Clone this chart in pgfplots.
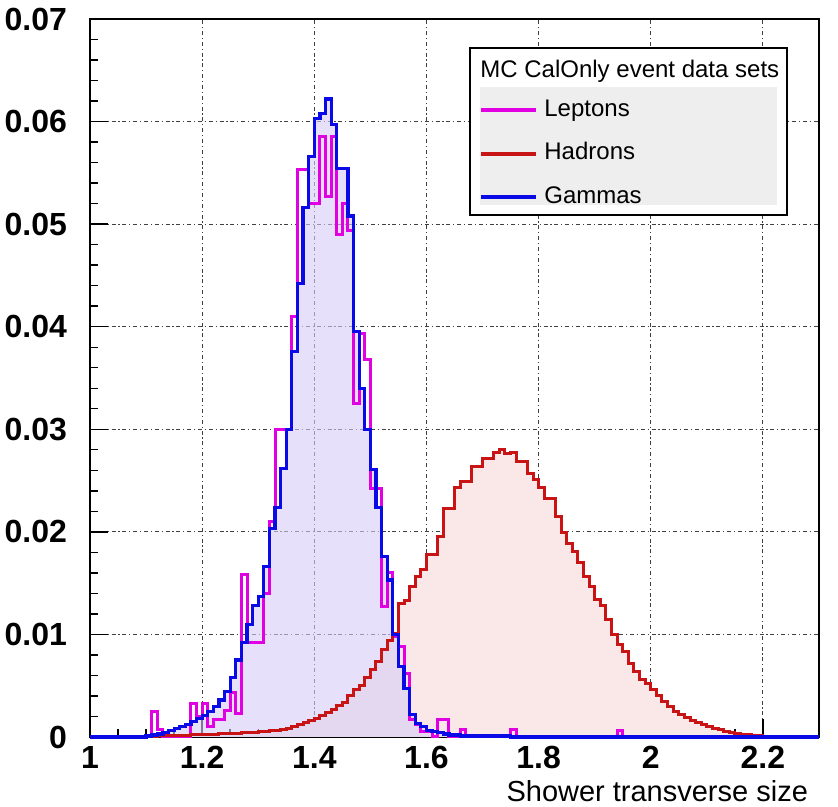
\documentclass[border=0pt]{standalone}
\usepackage{fontspec}
\setmainfont{Liberation Sans}
\usepackage{pgfplots}
\usepackage{pgfplotstable}
\pgfplotsset{compat=1.18}

\definecolor{lepcol}{RGB}{225,0,225}
\definecolor{hadcol}{RGB}{200,20,20}
\definecolor{gamcol}{RGB}{10,10,230}
\definecolor{gamfill}{RGB}{214,204,246}
\definecolor{hadfill}{RGB}{250,232,232}
\definecolor{legbg}{RGB}{238,238,238}

% bin left edge, leptons, hadrons, gammas (bins of 0.01)
\pgfplotstableread{
x    lep    had    gam
1.00 0      0      0
1.10 0      0      0.0001
1.11 0.0025 0      0.0002
1.12 0.0007 0.0001 0.0003
1.13 0      0.0001 0.0004
1.14 0      0.0001 0.0006
1.15 0      0.0001 0.0008
1.16 0      0.0001 0.0010
1.17 0      0.0001 0.0012
1.18 0.0033 0.0002 0.0015
1.19 0.0020 0.0002 0.0018
1.20 0.0033 0.0002 0.0021
1.21 0.0010 0.0002 0.0025
1.22 0.0017 0.0002 0.0030
1.23 0.0017 0.0003 0.0036
1.24 0.0026 0.0003 0.0044
1.25 0.0043 0.0003 0.0058
1.26 0.0023 0.0003 0.0075
1.27 0.0158 0.0004 0.0092
1.28 0.0092 0.0004 0.0110
1.29 0.0092 0.0004 0.0128
1.30 0.0092 0.0005 0.0137
1.31 0.0140 0.0005 0.0166
1.32 0.0210 0.0006 0.0203
1.33 0.0300 0.0006 0.0224
1.34 0.0300 0.0007 0.0262
1.35 0.0300 0.0008 0.0300
1.36 0.0410 0.0010 0.0376
1.37 0.0553 0.0012 0.0442
1.38 0.0553 0.0014 0.0516
1.39 0.0520 0.0016 0.0566
1.40 0.0520 0.0018 0.0603
1.41 0.0585 0.0021 0.0608
1.42 0.0527 0.0024 0.0622
1.43 0.0585 0.0027 0.0597
1.44 0.0490 0.0031 0.0554
1.45 0.0520 0.0034 0.0554
1.46 0.0494 0.0040 0.0508
1.47 0.0325 0.0046 0.0395
1.48 0.0393 0.0050 0.0340
1.49 0.0368 0.0058 0.0300
1.50 0.0242 0.0066 0.0261
1.51 0.0242 0.0074 0.0224
1.52 0.0127 0.0085 0.0176
1.53 0.0160 0.0094 0.0153
1.54 0.0098 0.0101 0.0100
1.55 0.0088 0.0130 0.0069
1.56 0.0062 0.0133 0.0047
1.57 0.0017 0.0147 0.0022
1.58 0.0012 0.0156 0.0013
1.59 0.0005 0.0163 0.0010
1.60 0.0005 0.0178 0.0006
1.61 0      0.0178 0.0005
1.62 0.0017 0.0195 0.0004
1.63 0.0017 0.0223 0.0003
1.64 0      0.0223 0.0002
1.65 0      0.0243 0.0002
1.66 0.0007 0.0249 0.0001
1.67 0      0.0249 0.0001
1.68 0      0.0264 0.0001
1.69 0      0.0264 0.0001
1.70 0      0.0272 0.0001
1.71 0      0.0272 0.0001
1.72 0      0.0277 0.0001
1.73 0      0.0280 0.0001
1.74 0      0.0276 0.0001
1.75 0.0007 0.0277 0
1.76 0      0.0269 0
1.77 0      0.0269 0
1.78 0      0.0257 0
1.79 0      0.0251 0
1.80 0      0.0243 0
1.81 0      0.0233 0
1.82 0      0.0233 0
1.83 0      0.0215 0
1.84 0      0.0199 0
1.85 0      0.0189 0
1.86 0      0.0181 0
1.87 0      0.0170 0
1.88 0      0.0156 0
1.89 0      0.0147 0
1.90 0      0.0134 0
1.91 0      0.0128 0
1.92 0      0.0115 0
1.93 0      0.0100 0
1.94 0.0006 0.0090 0
1.95 0      0.0083 0
1.96 0      0.0072 0
1.97 0      0.0064 0
1.98 0      0.0056 0
1.99 0      0.0052 0
2.00 0      0.0046 0
2.01 0      0.0040 0
2.02 0      0.0035 0
2.03 0      0.0030 0
2.04 0      0.0025 0
2.05 0      0.0022 0
2.06 0      0.0019 0
2.07 0      0.0016 0
2.08 0      0.0014 0
2.09 0      0.0012 0
2.10 0      0.0010 0
2.11 0      0.0008 0
2.12 0      0.0007 0
2.13 0      0.0005 0
2.14 0      0.0004 0
2.15 0      0.0003 0
2.16 0      0.0002 0
2.17 0      0.0002 0
2.18 0      0.0001 0
2.19 0      0.0001 0
2.20 0      0      0
2.30 0      0      0
}\histos

\begin{document}
\begin{tikzpicture}
\path[use as bounding box] (-45pt,-34.5pt) rectangle (374pt,368.5pt);
\begin{axis}[
  at={(0pt,0pt)}, anchor=south west,
  scale only axis,
  width=364.5pt, height=359pt,
  xmin=1, xmax=2.3,
  ymin=0, ymax=0.07,
  xtick={1,1.2,1.4,1.6,1.8,2,2.2},
  ytick={0,0.01,0.02,0.03,0.04,0.05,0.06,0.07},
  scaled y ticks=false,
  scaled x ticks=false,
  minor x tick num=3,
  minor y tick num=4,
  xtick pos=bottom, ytick pos=left,
  tick align=inside,
  major tick length=9pt,
  minor tick length=4pt,
  every tick/.style={black, line width=0.7pt},
  axis line style={line width=1.3pt},
  grid=major,
  major grid style={black!75, line width=0.45pt, dash pattern=on 2pt off 1.4pt on 0.6pt off 1.4pt},
  /pgf/number format/assume math mode=true,
  ticklabel style={font=\bfseries\fontsize{16}{16}\selectfont},
  yticklabel style={/pgf/number format/fixed, /pgf/number format/precision=2, xshift=-8pt},
  xticklabel style={yshift=-1pt},
  xlabel={Shower transverse size},
  xlabel style={at={(rel axis cs:1,0)}, anchor=base east, yshift=-32pt, xshift=-2pt,
    font=\fontsize{14.5}{14.5}\selectfont},
  clip=false,
  legend image code/.code={\draw[#1, line width=2pt] (0pt,0pt) -- (27.5pt,0pt);},
  legend style={at={(rel axis cs:0.5336,0.8955)}, anchor=north west,
    draw=none, fill=none, inner sep=0pt,
    font=\fontsize{12}{12}\selectfont,
    row sep=5.75pt, column sep=1pt,
    nodes={inner sep=2pt, text height=9pt, text depth=3pt}},
  legend cell align=left,
]
% fills
\addplot[const plot, fill=hadfill, draw=none, forget plot] table[x=x, y=had]{\histos} \closedcycle;
\addplot[const plot, fill=gamfill, fill opacity=0.6, draw=none, forget plot] table[x=x, y=gam]{\histos} \closedcycle;
% outlines
\addplot[const plot, color=lepcol, line width=1.5pt] table[x=x, y=lep]{\histos};
\addplot[const plot, color=hadcol, line width=1.5pt] table[x=x, y=had]{\histos};
\addplot[const plot, color=gamcol, line width=1.6pt] table[x=x, y=gam]{\histos};
\legend{Leptons, Hadrons, Gammas}
% legend box
\fill[white] (rel axis cs:0.5213,0.727) rectangle (rel axis cs:0.9561,0.9596);
\fill[legbg] (rel axis cs:0.535,0.741) rectangle (rel axis cs:0.9424,0.9053);
\draw[black, line width=1pt] (rel axis cs:0.5213,0.727) rectangle (rel axis cs:0.9561,0.9596);
\node[anchor=base west, inner sep=0pt, font=\fontsize{12}{12}\selectfont]
  at (rel axis cs:0.535,0.9192) {MC CalOnly event data sets};
\end{axis}
\end{tikzpicture}
\end{document}
